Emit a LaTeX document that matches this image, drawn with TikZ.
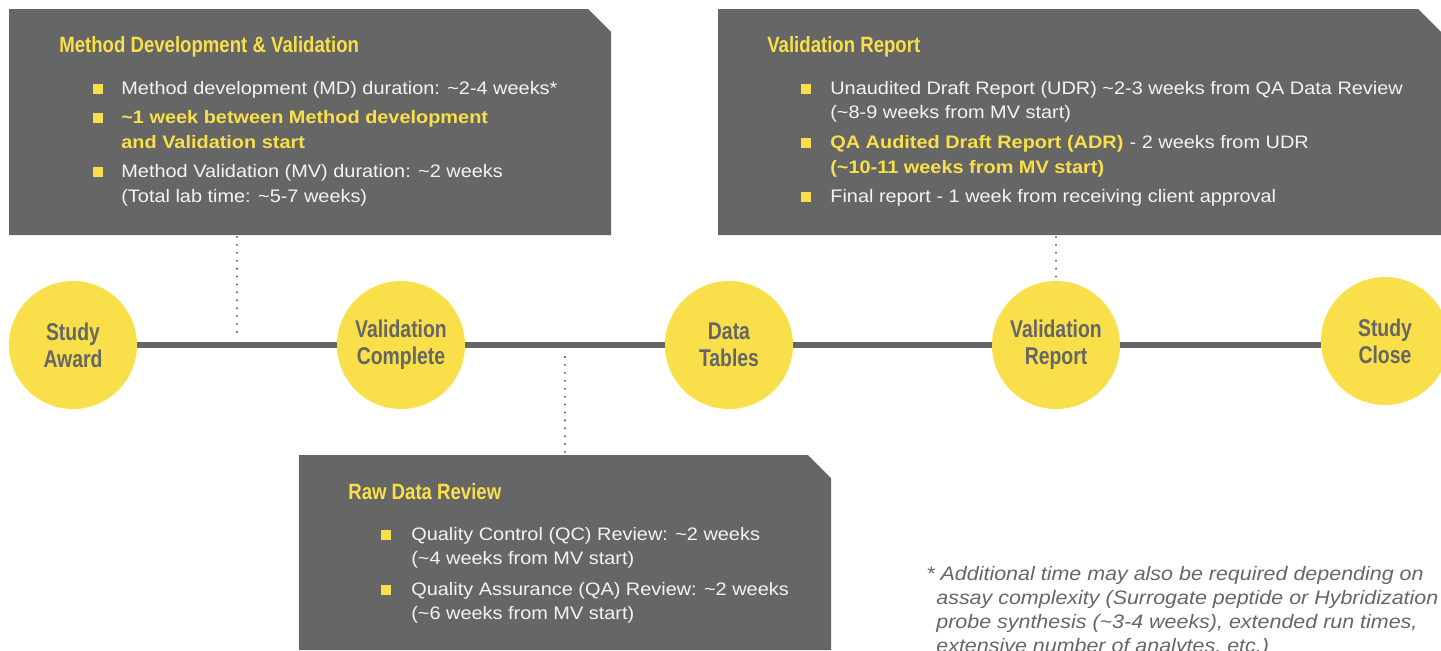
\documentclass[tikz,border=0pt]{standalone}
\usepackage{fontspec}
\setmainfont[FakeStretch=1.1]{Liberation Sans}
\newfontfamily\headfont[FakeStretch=0.84]{Liberation Sans}
\newfontfamily\markfont[FakeStretch=0.8]{Liberation Sans}
\usepackage{tikz}
\usetikzlibrary{positioning}

\definecolor{panelgray}{HTML}{666666}
\definecolor{msyellow}{HTML}{F9E04B}
\definecolor{paneltext}{HTML}{F4F4F4}
\newcommand{\apx}{\textasciitilde}

\begin{document}
\begin{tikzpicture}[
    x=0.02cm, y=-0.02cm,
    head/.style={anchor=base west, inner sep=0pt, text=msyellow, font=\headfont\bfseries\fontsize{12.6pt}{14pt}\selectfont},
    itemtext/.style={anchor=base west, inner sep=0pt, text=paneltext, font=\fontsize{10.3pt}{14pt}\selectfont},
    hot/.style={itemtext, text=msyellow, font=\bfseries\fontsize{10.3pt}{14pt}\selectfont},
    bullet/.style={fill=msyellow, minimum size=0.2cm, inner sep=0pt},
    milestone/.style={circle, fill=msyellow, minimum size=2.56cm, inner sep=0pt, align=center, text=panelgray, font=\markfont\bfseries\fontsize{13.8pt}{15.3pt}\selectfont},
    timeline/.style={draw=panelgray, line width=3pt},
    leader/.style={panelgray, line width=1.3pt, line cap=round, dash pattern=on 0pt off 4.5pt},
    note/.style={anchor=base west, inner sep=0pt, text=panelgray, font=\itshape\fontsize{11.1pt}{13pt}\selectfont}
]
    \useasboundingbox (0,0) rectangle (1441,650);
    \clip (0,0) rectangle (1441,650);

    % === Panels ===
    \fill[panelgray] (9,9) -- (588,9) -- (611,32) -- (611,235) -- (9,235) -- cycle;
    \fill[panelgray] (718,9) -- (1418,9) -- (1441,32) -- (1441,235) -- (718,235) -- cycle;
    \fill[panelgray] (299,455) -- (808,455) -- (831,478) -- (831,650) -- (299,650) -- cycle;

    % === Method Development & Validation ===
    \node[head] (mdvhead) at (59,52) {Method Development \& Validation};
    \node[bullet] (mdvb1) at (98,89) {};
    \node[itemtext] (mdv1) at (121,94) {Method development (MD) duration: \apx2-4 weeks*};
    \node[bullet] (mdvb2) at (98,118) {};
    \node[hot] (mdv2) at (121,123) {\apx1 week between Method development};
    \node[hot] (mdv3) at (121,148) {and Validation start};
    \node[bullet] (mdvb3) at (98,172) {};
    \node[itemtext] (mdv4) at (121,177) {Method Validation (MV) duration: \apx2 weeks};
    \node[itemtext] (mdv5) at (121,202) {(Total lab time: \apx5-7 weeks)};

    % === Validation Report ===
    \node[head] (vrhead) at (767,52) {Validation Report};
    \node[bullet] (vrb1) at (806,89) {};
    \node[itemtext] (vr1) at (830,94) {Unaudited Draft Report (UDR) \apx2-3 weeks from QA Data Review};
    \node[itemtext] (vr2) at (830,118) {(\apx8-9 weeks from MV start)};
    \node[bullet] (vrb2) at (806,143) {};
    \node[hot] (vr3) at (830,148) {QA Audited Draft Report (ADR)};
    \node[itemtext, right=0pt of vr3.base east, anchor=base west] (vr3b) {\ - 2 weeks from UDR};
    \node[hot] (vr4) at (830,173) {(\apx10-11 weeks from MV start)};
    \node[bullet] (vrb3) at (806,197) {};
    \node[itemtext] (vr5) at (830,202) {Final report - 1 week from receiving client approval};

    % === Raw Data Review ===
    \node[head] (rdrhead) at (348,499) {Raw Data Review};
    \node[bullet] (rdrb1) at (386,535) {};
    \node[itemtext] (rdr1) at (411,540) {Quality Control (QC) Review: \apx2 weeks};
    \node[itemtext] (rdr2) at (411,564) {(\apx4 weeks from MV start)};
    \node[bullet] (rdrb2) at (386,590) {};
    \node[itemtext] (rdr3) at (411,595) {Quality Assurance (QA) Review: \apx2 weeks};
    \node[itemtext] (rdr4) at (411,619) {(\apx6 weeks from MV start)};

    % === Milestones ===
    \node[milestone] (award) at (73,345) {Study\\Award};
    \node[milestone] (valdone) at (401,345) {Validation\\Complete};
    \node[milestone] (tables) at (729,345) {Data\\Tables};
    \node[milestone] (vreport) at (1056,345) {Validation\\Report};
    \node[milestone] (close) at (1385,341) {Study\\Close};

    % Timeline
    \draw[timeline] (award) -- (valdone);
    \draw[timeline] (valdone) -- (tables);
    \draw[timeline] (tables) -- (vreport);
    \draw[timeline] (vreport) -- (vreport -| close.west);

    % Leaders
    \coordinate (mdvfoot) at (237,237);
    \coordinate (mdvtick) at (237,339);
    \draw[leader] (mdvfoot) -- (mdvtick);
    \coordinate (vrfoot) at (1056,237);
    \draw[leader] (vrfoot) -- (vreport.north);
    \coordinate (rdrtop) at (565,452);
    \coordinate (rdrtick) at (565,357);
    \draw[leader] (rdrtop) -- (rdrtick);

    % Footnote
    \node[note] (fn1) at (926,580) {* Additional time may also be required depending on};
    \node[note] (fn2) at (936,604) {assay complexity (Surrogate peptide or Hybridization};
    \node[note] (fn3) at (936,628) {probe synthesis (\apx3-4 weeks), extended run times,};
    \node[note] (fn4) at (936,652) {extensive number of analytes, etc.)};
\end{tikzpicture}
\end{document}
